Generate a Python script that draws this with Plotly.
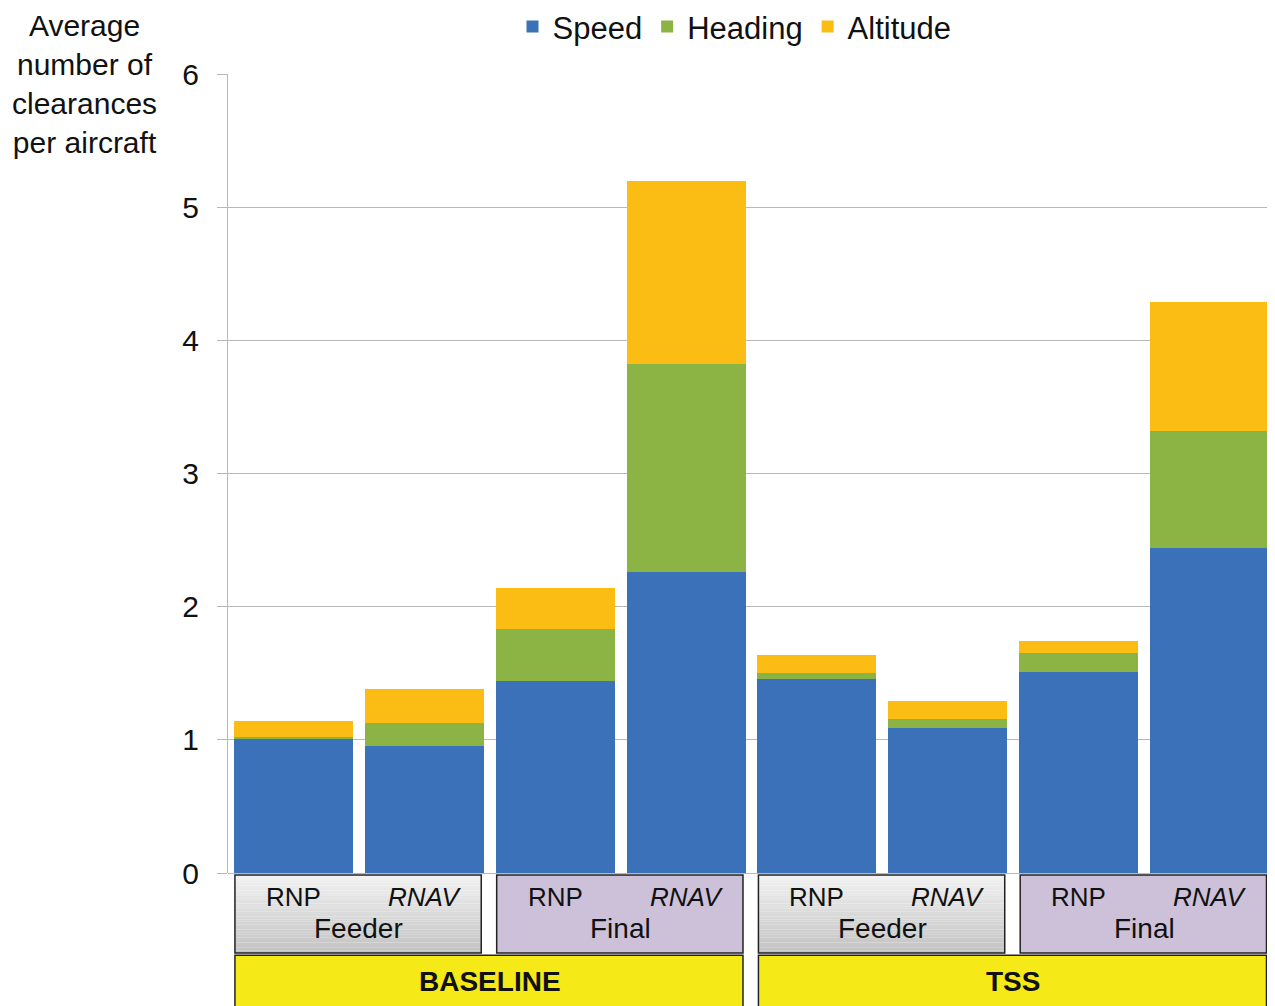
import plotly.graph_objects as go

# ---- data ----
bars = ["BASELINE Feeder RNP", "BASELINE Feeder RNAV", "BASELINE Final RNP", "BASELINE Final RNAV",
        "TSS Feeder RNP", "TSS Feeder RNAV", "TSS Final RNP", "TSS Final RNAV"]
bar_labels = ["RNP", "RNAV", "RNP", "RNAV", "RNP", "RNAV", "RNP", "RNAV"]
phases = ["Feeder", "Final", "Feeder", "Final"]
scenarios = ["BASELINE", "TSS"]
speed = [1.01, 0.95, 1.44, 2.26, 1.46, 1.09, 1.51, 2.44]
heading = [0.01, 0.18, 0.39, 1.56, 0.04, 0.07, 0.14, 0.88]
altitude = [0.12, 0.25, 0.31, 1.38, 0.14, 0.13, 0.09, 0.97]
y_ticks = [0, 1, 2, 3, 4, 5, 6]

FONT = "Liberation Sans, Arial, sans-serif"
idx = list(range(len(bars)))

fig = go.Figure()
fig.add_trace(go.Bar(x=idx, y=speed, name="Speed", marker=dict(color="#3A71B8", line=dict(width=0))))
fig.add_trace(go.Bar(x=idx, y=heading, name="Heading", marker=dict(color="#8BB444", line=dict(width=0))))
fig.add_trace(go.Bar(x=idx, y=altitude, name="Altitude", marker=dict(color="#FBBC13", line=dict(width=0))))

shapes = []
annotations = []


def lerp_color(c0, c1, t):
    a = [int(c0[i:i + 2], 16) for i in (1, 3, 5)]
    b = [int(c1[i:i + 2], 16) for i in (1, 3, 5)]
    return "#" + "".join("%02X" % round(a[k] + (b[k] - a[k]) * t) for k in range(3))


# group boxes (phase level)
box_top, box_bot = -0.0025, -0.100
n_bands = 30
for g, ph in enumerate(phases):
    x0 = 2 * g - 0.447
    x1 = 2 * g + 1.435
    if ph == "Feeder":
        for k in range(n_bands):
            ya = box_top + (box_bot - box_top) * k / n_bands
            yb = box_top + (box_bot - box_top) * (k + 1) / n_bands
            shapes.append(dict(type="rect", xref="x", yref="paper", x0=x0, x1=x1, y0=ya, y1=yb,
                               fillcolor=lerp_color("#F2F2F2", "#C2C2C2", (k + 0.5) / n_bands),
                               line=dict(width=0), layer="above"))
        fill = "rgba(0,0,0,0)"
    else:
        fill = "#CDC1DA"
    shapes.append(dict(type="rect", xref="x", yref="paper", x0=x0, x1=x1, y0=box_top, y1=box_bot,
                       fillcolor=fill, line=dict(color="#222222", width=1.5), layer="above"))
    annotations.append(dict(x=2 * g + 0.5, y=-0.070, xref="x", yref="paper", text=ph, showarrow=False,
                            font=dict(size=28, color="#111111", family=FONT), yanchor="middle"))

for i, lab in enumerate(bar_labels):
    txt = "<i>" + lab + "</i>" if lab == "RNAV" else lab
    annotations.append(dict(x=i, y=-0.030, xref="x", yref="paper", text=txt, showarrow=False,
                            font=dict(size=26, color="#111111", family=FONT), yanchor="middle"))

for s, sc in enumerate(scenarios):
    x0 = 4 * s - 0.447
    x1 = 4 * s + 3.435
    shapes.append(dict(type="rect", xref="x", yref="paper", x0=x0, x1=x1, y0=-0.103, y1=-0.20,
                       fillcolor="#F5E917", line=dict(color="#222222", width=1.5), layer="above"))
    annotations.append(dict(x=4 * s + 1.5, y=-0.136, xref="x", yref="paper", text="<b>" + sc + "</b>",
                            showarrow=False, font=dict(size=28, color="#111111", family=FONT), yanchor="middle"))

# y-axis title
annotations.append(dict(xref="paper", yref="paper", x=-0.1366, y=0.9880, xanchor="center", yanchor="middle",
                        text="Average<br>number of<br>clearances<br>per aircraft", showarrow=False, align="center",
                        font=dict(size=30, color="#111111", family=FONT)))

fig.update_layout(
    width=1267, height=998,
    barmode="stack", bargap=0.09,
    plot_bgcolor="white", paper_bgcolor="white",
    margin=dict(l=220, r=0, t=66, b=133, autoexpand=False),
    font=dict(family=FONT, size=28, color="#111111"),
    showlegend=True,
    legend=dict(orientation="h", xref="container", yref="container", x=0.5734, y=0.981,
                xanchor="center", yanchor="middle", font=dict(size=31, family=FONT, color="#111111"),
                itemwidth=30, traceorder="normal"),
    shapes=shapes, annotations=annotations,
    xaxis=dict(range=[-0.5, 7.5], showticklabels=False, showgrid=False, zeroline=False,
               showline=False, ticks=""),
    yaxis=dict(range=[0, 6], tickvals=y_ticks, showgrid=True, gridcolor="#B8B8B8", gridwidth=1,
               zeroline=True, zerolinecolor="#B8B8B8", zerolinewidth=1,
               showline=True, linecolor="#B8B8B8", linewidth=1,
               ticks="outside", ticklen=10, tickcolor="#B8B8B8",
               tickfont=dict(size=30, family=FONT, color="#111111"), ticklabelstandoff=12),
)

fig.write_html("out.html")
